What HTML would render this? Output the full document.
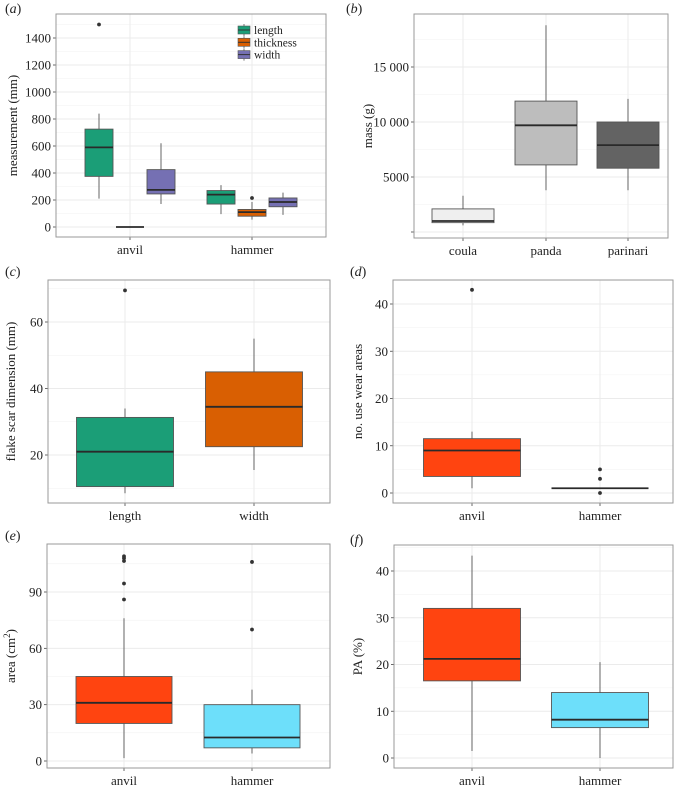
<!DOCTYPE html>
<html><head><meta charset="utf-8"><style>
html,body{margin:0;padding:0;background:#fff;}
svg{display:block;}
text{font-family:"Liberation Serif",serif;fill:#222;}
</style></head><body>
<svg id="fig" width="680" height="788" viewBox="0 0 680 788"></svg>
<script>
// ---------- data ----------
// stats arrays: [lowWhisker, q1, median, q3, highWhisker]
const aGroups = ['anvil', 'hammer'];
const aSeries = ['length', 'thickness', 'width'];
const aLength = [[210, 375, 590, 725, 840], [95, 170, 240, 270, 310]];
const aThickness = [[0, 0, 0, 0, 0], [55, 80, 110, 130, 185]];
const aWidth = [[170, 245, 275, 425, 620], [90, 150, 185, 215, 255]];
const aLengthOut = [[1500], []];
const aThicknessOut = [[], [215]];
const aWidthOut = [[], []];
const aTicks = [0, 200, 400, 600, 800, 1000, 1200, 1400];
const aTickLabels = ['0', '200', '400', '600', '800', '1000', '1200', '1400'];

const bCats = ['coula', 'panda', 'parinari'];
const bStats = [[600, 850, 1000, 2100, 3300], [3800, 6100, 9700, 11900, 18800], [3800, 5800, 7900, 10000, 12100]];
const bOut = [[], [], []];
const bTicks = [0, 5000, 10000, 15000];
const bTickLabels = ['', '5000', '10 000', '15 000'];

const cCats = ['length', 'width'];
const cStats = [[8.5, 10.5, 21, 31.3, 34], [15.5, 22.5, 34.5, 45, 55]];
const cOut = [[69.5], []];
const cTicks = [20, 40, 60];
const cTickLabels = ['20', '40', '60'];

const dCats = ['anvil', 'hammer'];
const dStats = [[1, 3.5, 9, 11.5, 13], [1, 1, 1, 1, 1]];
const dOut = [[43], [0, 3, 5]];
const dTicks = [0, 10, 20, 30, 40];
const dTickLabels = ['0', '10', '20', '30', '40'];

const eCats = ['anvil', 'hammer'];
const eStats = [[1.5, 20, 31, 45, 76], [4, 7, 12.5, 30, 38]];
const eOut = [[86, 94.5, 106.5, 108, 109], [70, 106]];
const eTicks = [0, 30, 60, 90];
const eTickLabels = ['0', '30', '60', '90'];

const fCats = ['anvil', 'hammer'];
const fStats = [[1.5, 16.5, 21.2, 32, 43.3], [0, 6.5, 8.2, 14, 20.5]];
const fOut = [[], []];
const fTicks = [0, 10, 20, 30, 40];
const fTickLabels = ['0', '10', '20', '30', '40'];

// ---------- drawing ----------
const NS = 'http://www.w3.org/2000/svg';
const svg = document.getElementById('fig');
function mk(tag, attrs, parent) {
  const e = document.createElementNS(NS, tag);
  for (const k in attrs) e.setAttribute(k, attrs[k]);
  (parent || svg).appendChild(e);
  return e;
}
function linScale(v0, p0, v1, p1) { return v => p0 + (v - v0) * (p1 - p0) / (v1 - v0); }

function panel(cfg) {
  const g = mk('g', {});
  
  
  const r = cfg.rect;
  const y = linScale(cfg.v0, cfg.p0, cfg.v1, cfg.p1);
  // minor grid
  for (let i = 0; i < cfg.ticks.length + 1; i++) {
    const step = cfg.ticks[1] - cfg.ticks[0];
    const mv = cfg.ticks[0] + (i - 0.5) * step;
    const py = y(mv);
    if (py > r.y && py < r.y + r.h) mk('line', {x1: r.x, x2: r.x + r.w, y1: py, y2: py, stroke: '#f2f2f2', 'stroke-width': 0.6}, g);
  }
  // major grid + tick labels
  cfg.ticks.forEach((t, i) => {
    const py = y(t);
    const gl = mk('line', {x1: r.x, x2: r.x + r.w, y1: py, y2: py, stroke: '#ebebeb', 'stroke-width': 1}, g);
    
    
    mk('line', {x1: r.x - 3, x2: r.x, y1: py, y2: py, stroke: '#444', 'stroke-width': 0.8}, g);
    if (cfg.labels[i]) {
      const tx = mk('text', {x: r.x - 5, y: py + 4.5, 'text-anchor': 'end', 'font-size': 13}, g);
      tx.textContent = cfg.labels[i];
      
      
    }
  });
  // category x positions
  const n = cfg.cats.length;
  const cx = i => r.x + r.w * (i + 1) / (n + 1) * 1 + (cfg.xAdj ? cfg.xAdj(i) : 0);
  cfg.cats.forEach((c, i) => {
    const px = cfg.catX[i];
    mk('line', {x1: px, x2: px, y1: r.y, y2: r.y + r.h, stroke: '#ebebeb', 'stroke-width': 1}, g);
    mk('line', {x1: px, x2: px, y1: r.y + r.h, y2: r.y + r.h + 3, stroke: '#444', 'stroke-width': 0.8}, g);
    const tx = mk('text', {x: px, y: r.y + r.h + 17, 'text-anchor': 'middle', 'font-size': 13}, g);
    tx.textContent = c;
    
    
  });
  // boxes
  cfg.boxes.forEach(b => {
    const bg = mk('g', {}, g);
    
    
    const s = b.stats, x = b.x, hw = b.w / 2;
    mk('line', {x1: x, x2: x, y1: y(s[0]), y2: y(s[1]), stroke: '#555', 'stroke-width': 0.9}, bg);
    mk('line', {x1: x, x2: x, y1: y(s[3]), y2: y(s[4]), stroke: '#555', 'stroke-width': 0.9}, bg);
    mk('rect', {x: x - hw, y: y(s[3]), width: b.w, height: Math.max(0, y(s[1]) - y(s[3])), fill: b.fill, stroke: '#555', 'stroke-width': 0.9}, bg);
    mk('line', {x1: x - hw, x2: x + hw, y1: y(s[2]), y2: y(s[2]), stroke: '#2a2a2a', 'stroke-width': 1.8}, bg);
    b.out.forEach(o => {
      const pt = mk('circle', {cx: x, cy: y(o), r: 1.9, fill: '#333'}, bg);
      
      
    });
  });
  // border
  mk('rect', {x: r.x, y: r.y, width: r.w, height: r.h, fill: 'none', stroke: '#999', 'stroke-width': 1}, g);
  // y title
  const tyx = cfg.titleX, tyy = r.y + r.h / 2;
  const yt = mk('text', {x: tyx, y: tyy, 'text-anchor': 'middle', 'font-size': 13, transform: `rotate(-90 ${tyx} ${tyy})`}, g);
  yt.innerHTML = cfg.title;
  
  
  // panel tag
  const pl = mk('text', {x: cfg.tag[0], y: cfg.tag[1], 'font-size': 14}, g);
  pl.innerHTML = '(<tspan font-style="italic">' + cfg.tagL + '</tspan>)';
  
  
  return g;
}

// panel a
const aCols = ['#1b9e77', '#d95f02', '#7570b3'];
const aData = [aLength, aThickness, aWidth];
const aOuts = [aLengthOut, aThicknessOut, aWidthOut];
const aCatX = [130, 252];
const aBoxes = [];
aGroups.forEach((gname, gi) => {
  aSeries.forEach((sname, si) => {
    aBoxes.push({label: gname + '-' + sname, x: aCatX[gi] + (si - 1) * 31, w: 28, stats: aData[si][gi], out: aOuts[si][gi], fill: aCols[si]});
  });
});
const ga = panel({name: 'panel-a', rect: {x: 56, y: 14, w: 270, h: 223}, v0: 0, p0: 227, v1: 1400, p1: 38,
  ticks: aTicks, labels: aTickLabels, cats: aGroups, catX: aCatX, boxes: aBoxes, title: 'measurement (mm)', titleX: 17, tag: [5, 13], tagL: 'a'});
// legend
aSeries.forEach((s, i) => {
  const ly = 30 + i * 12.3;
  const lg = mk('g', {}, ga);
  
  
  mk('line', {x1: 244, x2: 244, y1: ly - 6, y2: ly + 6, stroke: '#555', 'stroke-width': 0.8}, lg);
  mk('rect', {x: 238, y: ly - 4, width: 12, height: 8, fill: aCols[i], stroke: '#555', 'stroke-width': 0.6}, lg);
  mk('line', {x1: 238, x2: 250, y1: ly, y2: ly, stroke: '#333', 'stroke-width': 1}, lg);
  const t = mk('text', {x: 254, y: ly + 4, 'font-size': 11.5}, lg);
  t.textContent = s;
});

// panel b
const bCols = ['#efefef', '#bdbdbd', '#636363'];
const bCatX = [463, 546, 628];
panel({name: 'panel-b', rect: {x: 414, y: 14, w: 254, h: 224}, v0: 0, p0: 232, v1: 15000, p1: 67,
  ticks: bTicks, labels: bTickLabels, cats: bCats, catX: bCatX,
  boxes: bCats.map((c, i) => ({label: c, x: bCatX[i], w: 62, stats: bStats[i], out: bOut[i], fill: bCols[i]})),
  title: 'mass (g)', titleX: 372, tag: [346, 13], tagL: 'b'});

// panel c
const cCols = ['#1b9e77', '#d95f02'];
const cCatX = [125, 254];
panel({name: 'panel-c', rect: {x: 48, y: 280, w: 282, h: 223}, v0: 20, p0: 455, v1: 60, p1: 322,
  ticks: cTicks, labels: cTickLabels, cats: cCats, catX: cCatX,
  boxes: cCats.map((c, i) => ({label: c, x: cCatX[i], w: 97, stats: cStats[i], out: cOut[i], fill: cCols[i]})),
  title: 'flake scar dimension (mm)', titleX: 15, tag: [5, 276], tagL: 'c'});

// panel d
const redCyan = ['#ff4410', '#6ddffa'];
const dCatX = [472, 600];
panel({name: 'panel-d', rect: {x: 393, y: 280, w: 280, h: 223}, v0: 0, p0: 493, v1: 40, p1: 304,
  ticks: dTicks, labels: dTickLabels, cats: dCats, catX: dCatX,
  boxes: dCats.map((c, i) => ({label: c, x: dCatX[i], w: 97, stats: dStats[i], out: dOut[i], fill: redCyan[i]})),
  title: 'no. use wear areas', titleX: 362, tag: [350, 276], tagL: 'd'});

// panel e
const eCatX = [124, 252];
panel({name: 'panel-e', rect: {x: 47, y: 544, w: 283, h: 224}, v0: 0, p0: 761, v1: 90, p1: 592,
  ticks: eTicks, labels: eTickLabels, cats: eCats, catX: eCatX,
  boxes: eCats.map((c, i) => ({label: c, x: eCatX[i], w: 96, stats: eStats[i], out: eOut[i], fill: redCyan[i]})),
  title: 'area (cm<tspan font-size="9" dy="-5">2</tspan><tspan dy="5">)</tspan>', titleX: 15, tag: [5, 540], tagL: 'e'});

// panel f
const fCatX = [472, 600];
panel({name: 'panel-f', rect: {x: 394, y: 545, w: 279, h: 223}, v0: 0, p0: 758, v1: 40, p1: 571,
  ticks: fTicks, labels: fTickLabels, cats: fCats, catX: fCatX,
  boxes: fCats.map((c, i) => ({label: c, x: fCatX[i], w: 97, stats: fStats[i], out: fOut[i], fill: redCyan[i]})),
  title: 'PA (%)', titleX: 362, tag: [350, 544], tagL: 'f'});
</script>
</body></html>
